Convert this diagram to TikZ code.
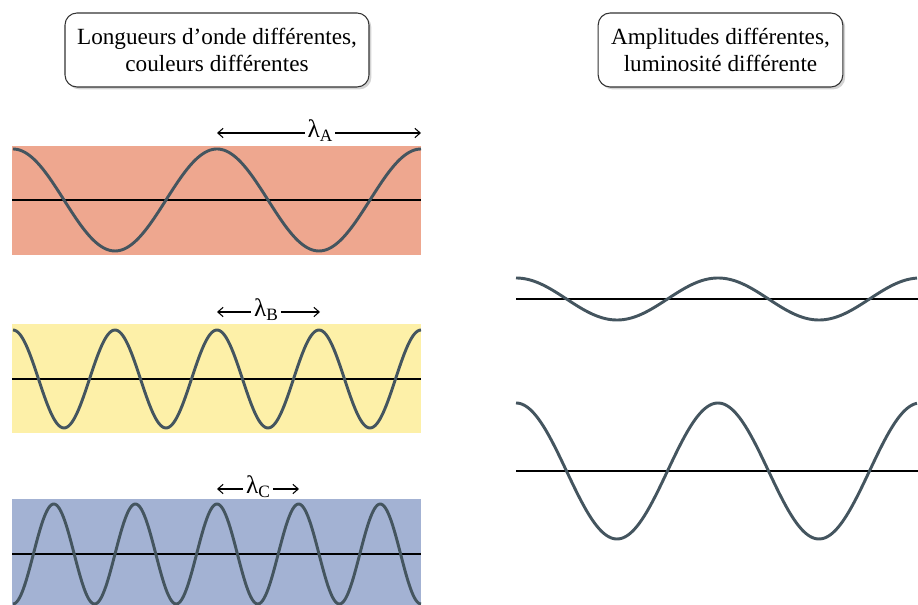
\documentclass[tikz,border=0pt]{standalone}
\usepackage{fontspec}
\setmainfont{Liberation Serif}
\usetikzlibrary{arrows.meta,shadows}
\definecolor{bandA}{HTML}{EEA78F}
\definecolor{bandB}{HTML}{FDF0A8}
\definecolor{bandC}{HTML}{A3B2D3}
\definecolor{wave}{HTML}{44555F}
\newcommand{\lamsub}[1]{λ\raisebox{-0.35ex}{\fontsize{13}{15}\selectfont #1}}
\tikzset{
  titlebox/.style={draw=black!80, line width=0.8pt, rounded corners=9pt, fill=white,
    drop shadow={shadow xshift=1.8pt, shadow yshift=-1.8pt, opacity=0.35},
    align=center, font=\fontsize{17.4}{20}\selectfont, inner sep=0pt},
  wavepath/.style={wave, line width=2.2pt, smooth},
  axis/.style={black, line width=0.85pt},
  lab/.style={font=\fontsize{19}{22}\selectfont, inner sep=2pt},
  dim/.style={-{Straight Barb[length=4pt,width=7pt]}, line width=0.8pt, black}
}
\begin{document}
\begin{tikzpicture}[x=0.75pt,y=-0.75pt]
\useasboundingbox (0,0) rectangle (918,605);
% title boxes
\node[titlebox, minimum width=228pt, minimum height=55.5pt] (t1) at (217,50)
  {Longueurs d’onde différentes,\\couleurs différentes};
\node[titlebox, minimum width=183.5pt, minimum height=55.5pt] (t2) at (720.5,50)
  {Amplitudes différentes,\\luminosité différente};
% band A
\fill[bandA] (12,146) rectangle (421,255);
\draw[axis] (12,200) -- (421,200);
\draw[wavepath] plot[domain=13:421, samples=200] (\x, {200-51*cos((\x-13)/204*360)});
% band B
\fill[bandB] (12,324) rectangle (421,433);
\draw[axis] (12,379) -- (421,379);
\draw[wavepath] plot[domain=13:421, samples=250] (\x, {379-49*cos((\x-13)/102*360)});
% band C
\fill[bandC] (12,499) rectangle (421,605);
\draw[axis] (12,554) -- (421,554);
\draw[wavepath] plot[domain=13:421, samples=300] (\x, {554-50*cos((\x-217)/81.6*360)});
% wavelength labels
\coordinate (a1) at (217,133); \coordinate (a2) at (421,133);
\node[lab] (la) at (320,131) {\lamsub{A}};
\draw[dim] (la.west |- a1) -- (a1); \draw[dim] (la.east |- a2) -- (a2);
\coordinate (b1) at (217,312); \coordinate (b2) at (320,312);
\node[lab] (lb) at (266,310) {\lamsub{B}};
\draw[dim] (lb.west |- b1) -- (b1); \draw[dim] (lb.east |- b2) -- (b2);
\coordinate (c1) at (217,489); \coordinate (c2) at (299,489);
\node[lab] (lc) at (258,487) {\lamsub{C}};
\draw[dim] (lc.west |- c1) -- (c1); \draw[dim] (lc.east |- c2) -- (c2);
% right waves
\draw[axis] (516,299) -- (918,299);
\draw[wavepath] plot[domain=516:917, samples=200] (\x, {299-21*cos((\x-516)/202*360)});
\draw[axis] (516,471) -- (918,471);
\draw[wavepath] plot[domain=516:917, samples=200] (\x, {471-68*cos((\x-516)/202*360)});
\end{tikzpicture}
\end{document}
